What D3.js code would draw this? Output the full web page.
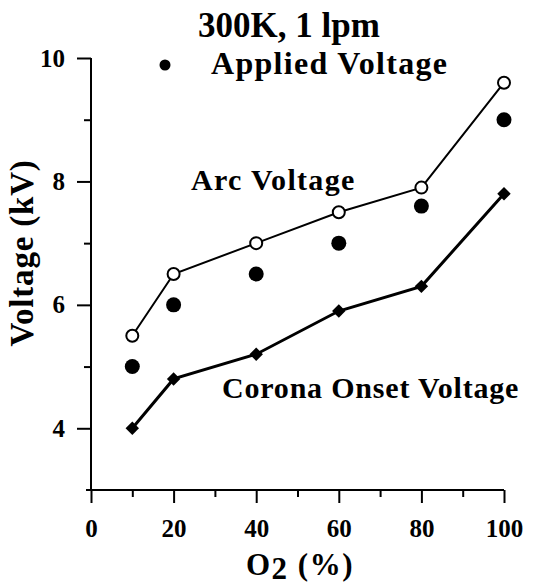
<!DOCTYPE html>
<html>
<head>
<meta charset="utf-8">
<script src="https://cdn.jsdelivr.net/npm/d3@7"></script>
<style>
  body { margin: 0; background: #fff; }
</style>
</head>
<body>
<div id="chart"></div>
<script>
// O2 concentration (%) and the three voltage series (kV)
const o2 = [10, 20, 40, 60, 80, 100];
const arcVoltage = [5.5, 6.5, 7.0, 7.5, 7.9, 9.6];
const appliedVoltage = [5.0, 6.0, 6.5, 7.0, 7.6, 9.0];
const coronaVoltage = [4.0, 4.8, 5.2, 5.9, 6.3, 7.8];
const xTicks = [0, 20, 40, 60, 80, 100];
const xMinor = [10, 30, 50, 70, 90];
const yTicks = [4, 6, 8, 10];
const yMinor = [5, 7, 9];

const serif = "'Liberation Serif', 'Times New Roman', serif";
const width = 533, height = 588;
const svg = d3.select("#chart").append("svg")
    .attr("width", width)
    .attr("height", height);

let x = d3.scaleLinear().domain([0, 100]).range([91, 504]);
let y = d3.scaleLinear().domain([3, 10]).range([490, 58]);

// axes
svg.append("g")
    .attr("class", "xaxis")
    .attr("transform", "translate(0," + y(3) + ")")
    .call(d3.axisBottom(x).tickValues(xTicks).tickSize(13).tickPadding(16).tickFormat(d3.format("d")));
svg.append("g")
    .attr("class", "xaxis")
    .attr("transform", "translate(0," + y(3) + ")")
    .call(d3.axisBottom(x).tickValues(xMinor).tickSize(7).tickFormat(""));

svg.append("g")
    .attr("class", "yaxis")
    .attr("transform", "translate(" + x(0) + ",0)")
    .call(d3.axisLeft(y).tickValues(yTicks).tickSize(14).tickPadding(12).tickFormat(d3.format("d")));
svg.append("g")
    .attr("class", "yaxis")
    .attr("transform", "translate(" + x(0) + ",0)")
    .call(d3.axisLeft(y).tickValues(yMinor).tickSize(7).tickFormat(""));

// plain axis lines without the end caps
svg.selectAll(".xaxis .domain").attr("d", "M" + (x(0) - 5) + ",0H" + x(100));
svg.selectAll(".yaxis .domain").attr("d", "M0," + y(3) + "V" + y(10));
svg.selectAll(".domain").attr("stroke", "#000").attr("stroke-width", 2);
svg.selectAll(".tick line").attr("stroke", "#000").attr("stroke-width", 2);
svg.selectAll(".tick text")
    .style("font-family", serif)
    .style("font-weight", "bold")
    .style("font-size", "25px");

// lines
let line = d3.line()
    .x((d, i) => x(o2[i]))
    .y(d => y(d));

svg.append("path")
    .datum(arcVoltage)
    .attr("d", line)
    .attr("fill", "none")
    .attr("stroke", "#000")
    .attr("stroke-width", 2);

svg.append("path")
    .datum(coronaVoltage)
    .attr("d", line)
    .attr("fill", "none")
    .attr("stroke", "#000")
    .attr("stroke-width", 3);

// markers
svg.selectAll(".arc")
    .data(arcVoltage)
    .enter()
    .append("circle")
    .attr("cx", (d, i) => x(o2[i]))
    .attr("cy", d => y(d))
    .attr("r", 6)
    .attr("fill", "#fff")
    .attr("stroke", "#000")
    .attr("stroke-width", 2);

svg.selectAll(".applied")
    .data(appliedVoltage)
    .enter()
    .append("circle")
    .attr("cx", (d, i) => x(o2[i]))
    .attr("cy", d => y(d))
    .attr("r", 7.5)
    .attr("fill", "#000");

let diamond = d3.symbol().type(d3.symbolDiamond2).size(115);
svg.selectAll(".corona")
    .data(coronaVoltage)
    .enter()
    .append("path")
    .attr("d", diamond)
    .attr("transform", (d, i) => "translate(" + x(o2[i]) + "," + y(d) + ")")
    .attr("fill", "#000");

// titles and labels
function label(txt, px, py, size) {
    return svg.append("text")
        .text(txt)
        .attr("x", px)
        .attr("y", py)
        .style("font-family", serif)
        .style("font-weight", "bold")
        .style("font-size", size + "px");
}

label("300K, 1 lpm", 289, 37, 35).attr("text-anchor", "middle");

svg.append("circle")
    .attr("cx", 165)
    .attr("cy", 65)
    .attr("r", 5.5)
    .attr("fill", "#000");
label("Applied Voltage", 211, 74, 32).style("letter-spacing", "1.3px");
label("Arc Voltage", 191, 190, 30).style("letter-spacing", "1.3px");
label("Corona Onset Voltage", 222, 398, 30).style("letter-spacing", "0.8px");

label("Voltage (kV)", 0, 0, 33)
    .attr("transform", "translate(33,253) rotate(-90)")
    .attr("text-anchor", "middle")
    .style("letter-spacing", "0.8px");

let xl = label("", 300, 575, 31)
    .attr("text-anchor", "middle")
    .style("letter-spacing", "1.5px");
xl.append("tspan").text("O");
xl.append("tspan").text("2").attr("dy", 4);
xl.append("tspan").text(" (%)").attr("dy", -4);
</script>
</body>
</html>
